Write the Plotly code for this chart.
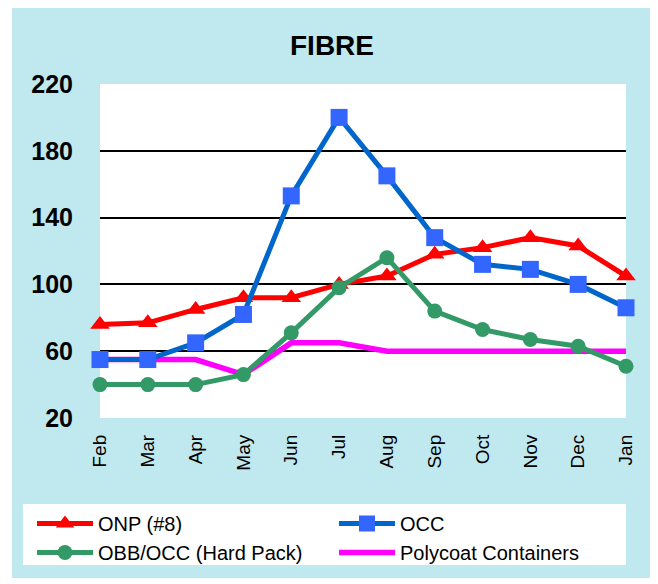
import plotly.graph_objects as go

months = ['Feb', 'Mar', 'Apr', 'May', 'Jun', 'Jul', 'Aug', 'Sep', 'Oct', 'Nov', 'Dec', 'Jan']
onp = [76, 77, 85, 92, 92, 100, 105, 118, 122, 128, 123, 105]
occ = [55, 55, 65, 82, 153, 200, 165, 128, 112, 109, 100, 86]
obb = [40, 40, 40, 46, 71, 98, 116, 84, 73, 67, 63, 51]
poly = [55, 55, 55, 46, 65, 65, 60, 60, 60, 60, 60, 60]

x = list(range(len(months)))
fig = go.Figure()

# polycoat drawn first so it sits behind the others
fig.add_trace(go.Scatter(x=x, y=poly, name='Polycoat Containers', mode='lines',
                         line=dict(color='#FF00FF', width=5.5),
                         cliponaxis=False, legendrank=4))
fig.add_trace(go.Scatter(x=x, y=onp, name='ONP (#8)', mode='lines+markers',
                         line=dict(color='#FF0000', width=5),
                         marker=dict(symbol='triangle-up', size=17, color='#FF0000'),
                         cliponaxis=False, legendrank=1))
fig.add_trace(go.Scatter(x=x, y=occ, name='OCC', mode='lines+markers',
                         line=dict(color='#0066CC', width=5),
                         marker=dict(symbol='square', size=17, color='#3366FF'),
                         cliponaxis=False, legendrank=2))
fig.add_trace(go.Scatter(x=x, y=obb, name='OBB/OCC (Hard Pack)', mode='lines+markers',
                         line=dict(color='#339966', width=5),
                         marker=dict(symbol='circle', size=15, color='#339966'),
                         cliponaxis=False, legendrank=3))

bg = '#C0E8EF'
# page body adds an 8px offset, so the figure is 8px smaller and shifted
off = 8
W, H = 658 - off, 584 - off
L, R, T, B = 100 - off, 32, 84 - off, 166
pw, ph = W - L - R, H - T - B

def px_x(v):
    return (v - off - L) / pw

def px_y(v):
    return (H - B - (v - off)) / ph

fig.update_layout(
    width=W, height=H,
    margin=dict(l=L, r=R, t=T, b=B, autoexpand=False),
    paper_bgcolor='white', plot_bgcolor='white',
    font=dict(family='Liberation Sans, Arial', color='black'),
    title=dict(text='FIBRE', x=(332 - off) / W, xanchor='center', y=1 - (45 - off) / H,
               yanchor='middle', font=dict(size=28, color='black', weight='bold')),
    shapes=[
        dict(type='rect', xref='paper', yref='paper',
             x0=px_x(12), x1=px_x(653), y0=px_y(578), y1=px_y(6),
             fillcolor=bg, line=dict(width=0), layer='below'),
        dict(type='rect', xref='paper', yref='paper', x0=0, x1=1, y0=0, y1=1,
             fillcolor='white', line=dict(width=0), layer='below'),
        # legend box
        dict(type='rect', xref='paper', yref='paper',
             x0=px_x(23), x1=px_x(626), y0=px_y(565), y1=px_y(504),
             fillcolor='white', line=dict(width=0), layer='below'),
    ],
    legend=dict(orientation='h', x=px_x(32), xanchor='left', y=px_y(504), yanchor='top',
                bgcolor='rgba(0,0,0,0)', entrywidth=231, itemwidth=56,
                font=dict(size=20, color='black'), traceorder='normal'),
)
fig.update_xaxes(range=[0, 11], tickvals=x, ticktext=months, tickangle=-90,
                 showgrid=False, zeroline=False, showline=False,
                 tickfont=dict(size=19), ticklabelstandoff=12)
fig.update_yaxes(range=[20, 220], tickvals=[20, 60, 100, 140, 180, 220],
                 showgrid=True, gridcolor='black', gridwidth=1.5, zeroline=False,
                 showline=False, tickfont=dict(size=25, weight='bold'),
                 ticklabelstandoff=26)

fig.write_html('out.html')
